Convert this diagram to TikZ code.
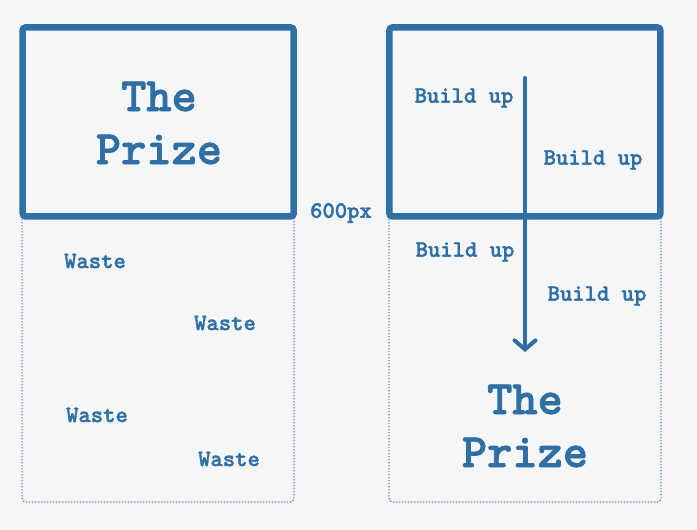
\documentclass[tikz,border=0pt]{standalone}
\usepackage{fontspec}
\newfontfamily\cour{lmmonolt10-bold}[Extension=.otf,FakeBold=1.6]
\usetikzlibrary{arrows.meta}
\definecolor{pblue}{RGB}{47,111,164}
\definecolor{bgc}{RGB}{244,246,248}
\tikzset{
  prizebox/.style={draw=pblue,line width=6.5pt,rounded corners=3pt,inner sep=0pt},
  dotbox/.style={draw=pblue!75,line width=1.4pt,dash pattern=on 1.4pt off 1.6pt,rounded corners=4pt},
  small/.style={text=pblue,font=\cour\bfseries\fontsize{23.5}{26}\selectfont,inner sep=0pt},
  big/.style={text=pblue,font=\cour\bfseries\fontsize{48}{53}\selectfont,align=center,inner sep=0pt},
  flow/.style={draw=pblue,line width=4pt,line cap=round,-{Straight Barb[length=9pt,width=21pt,line cap=round]}}
}
\begin{document}
\begin{tikzpicture}[x=1pt,y=-1pt]
\useasboundingbox[fill=bgc] (0,0) rectangle (697,530);
% dotted lower boxes
\draw[dotbox] (22,216) -- (22,502) -- (294,502) -- (294,216);
\draw[dotbox] (389,216) -- (389,502) -- (661,502) -- (661,216);
% thick boxes
\node[prizebox,minimum width=271pt,minimum height=189pt] (lbox) at (158.2,121.9) {};
\node[prizebox,minimum width=271pt,minimum height=189pt] (rbox) at (524.9,121.9) {};
% left prize
\node[big] (lprize) at (159,123) {The\\Prize};
% waste labels
\node[small] (w1) at (95,261) {Waste};
\node[small] (w2) at (225,323) {Waste};
\node[small] (w3) at (97,415) {Waste};
\node[small] (w4) at (229,459) {Waste};
\node[small] (px) at (341,213) {600px};
% build up labels
\node[small] (b1) at (464,98) {Build up};
\node[small] (b2) at (593,160) {Build up};
\node[small] (b3) at (465,252) {Build up};
\node[small] (b4) at (597,296) {Build up};
% right prize
\node[big] (rprize) at (525,426) {The\\Prize};
% arrow
\coordinate (atop) at (525,78);
\coordinate (abot) at (525,352);
\draw[flow] (atop) -- (abot);
\end{tikzpicture}
\end{document}
